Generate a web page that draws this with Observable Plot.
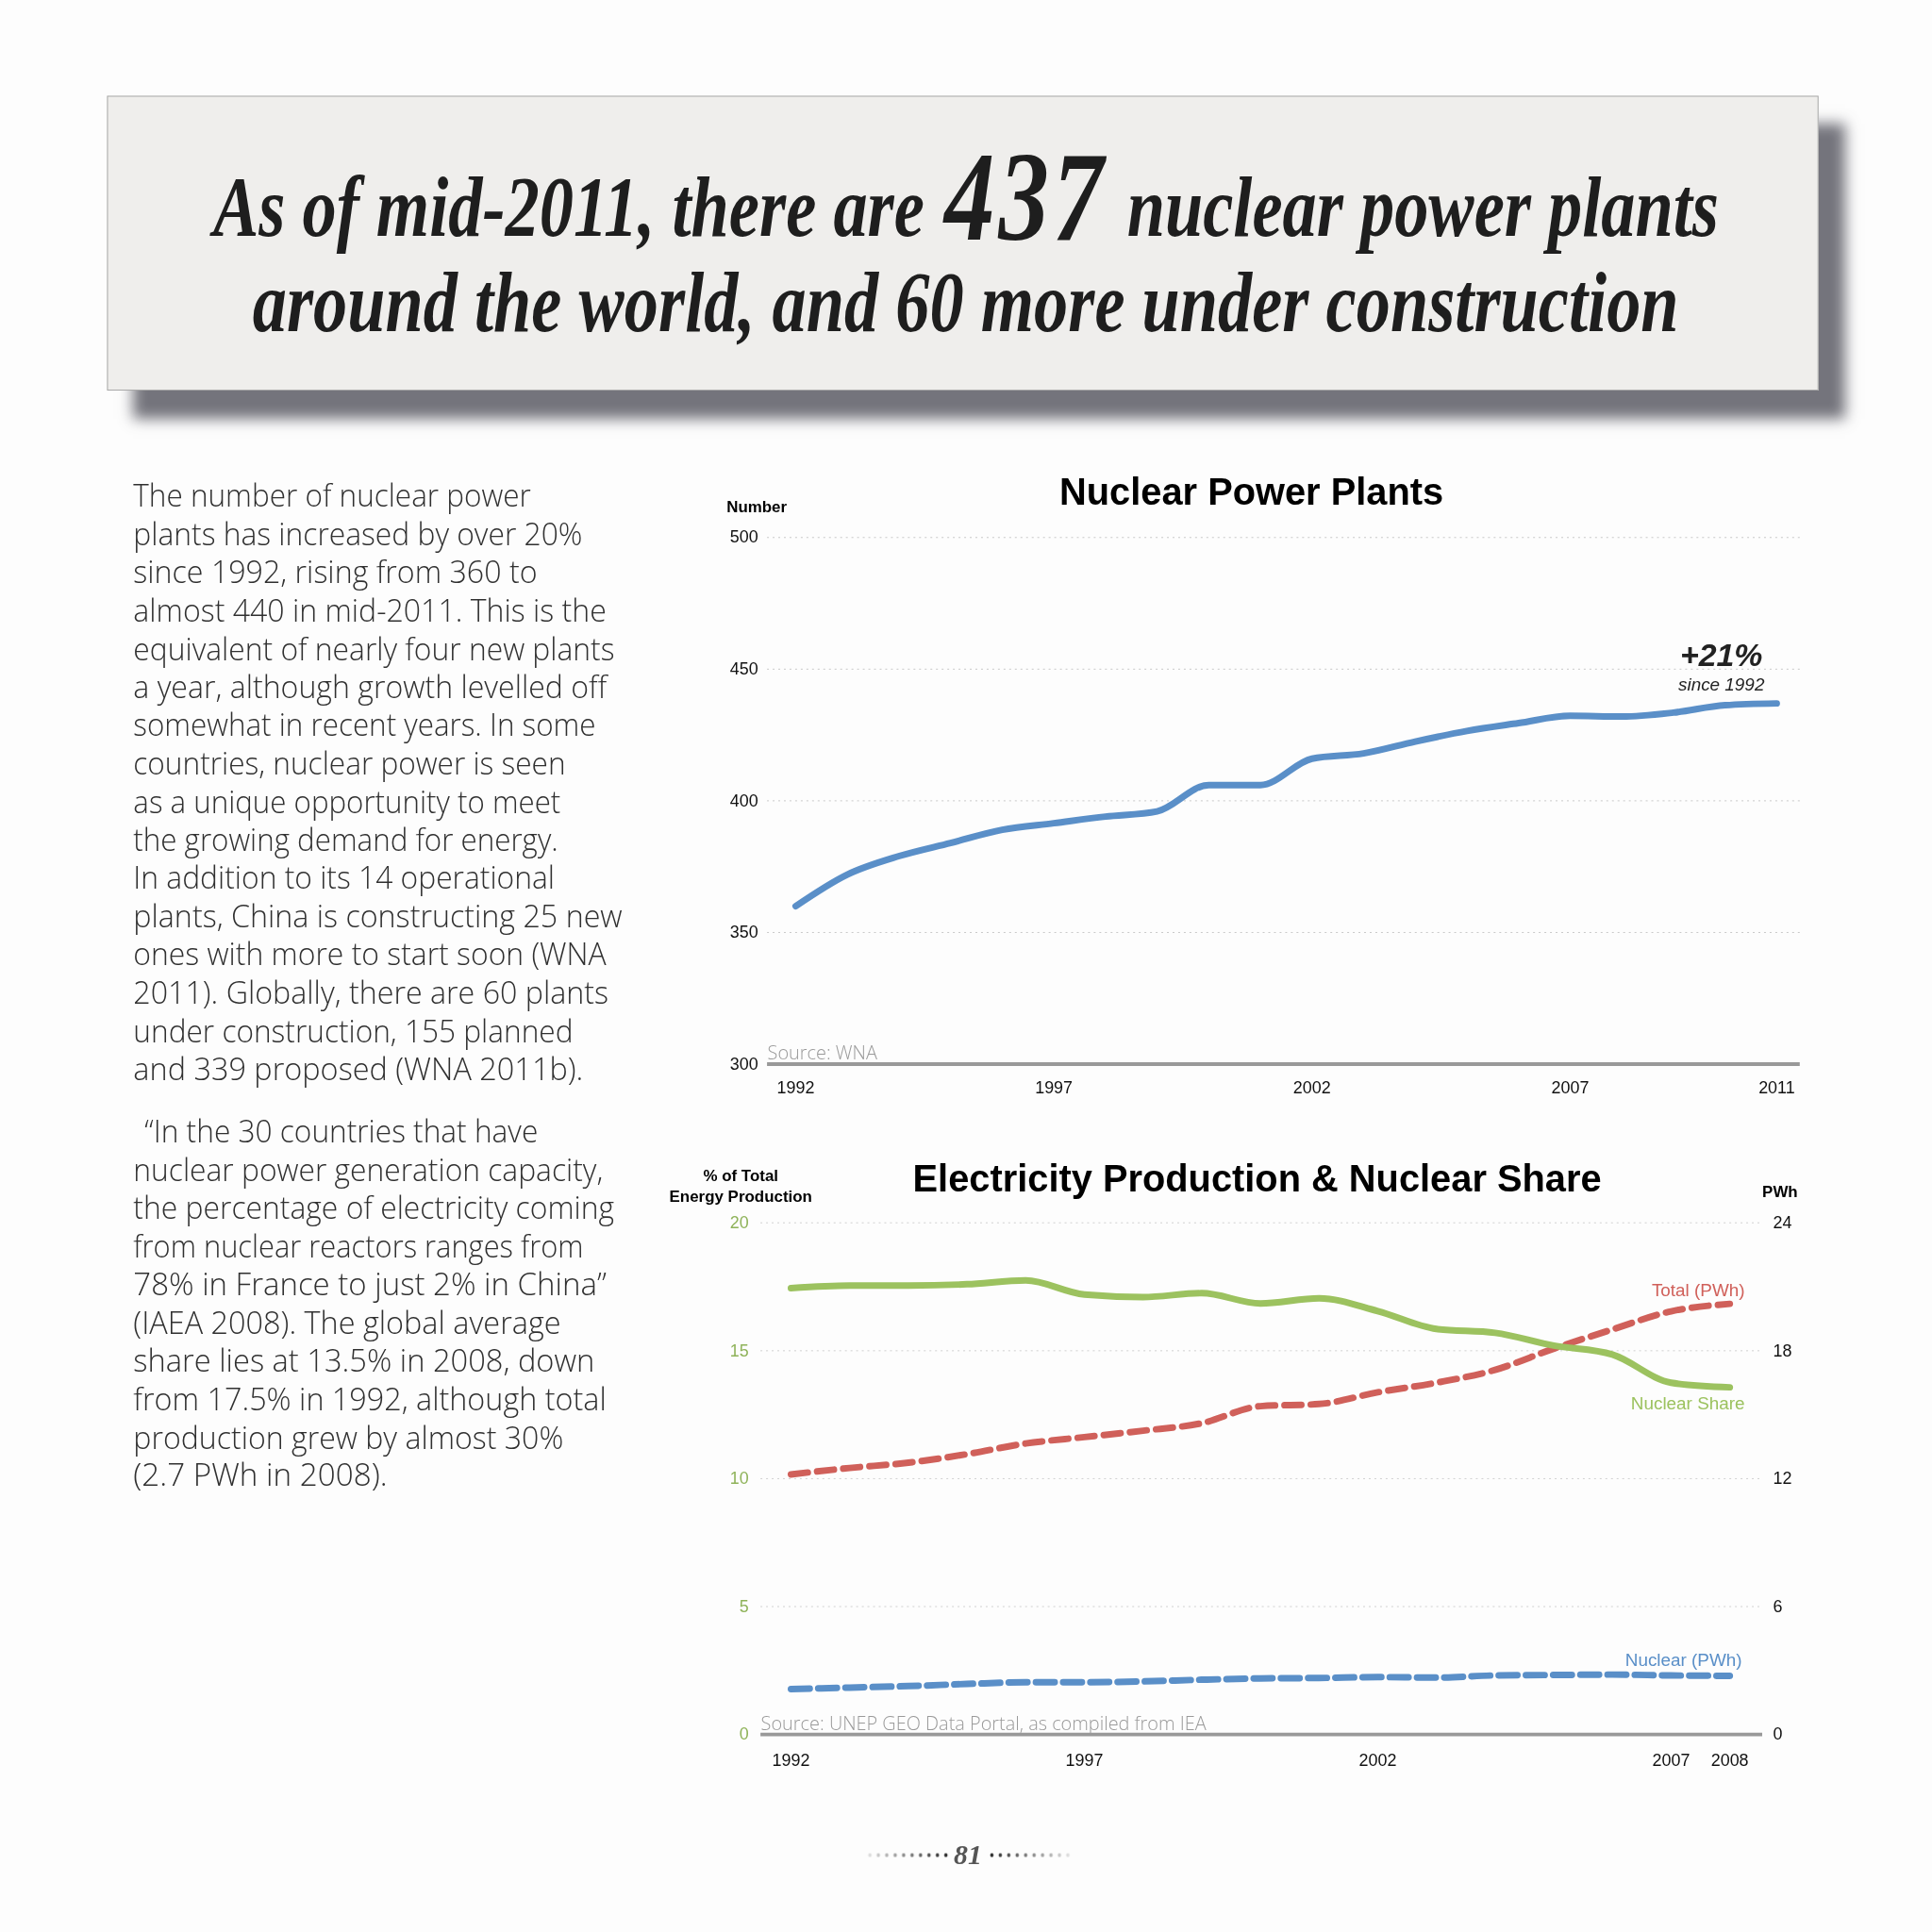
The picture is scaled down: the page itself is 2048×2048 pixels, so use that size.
<!DOCTYPE html>
<html>
<head>
<meta charset="utf-8">
<script src="https://cdn.jsdelivr.net/npm/d3@7"></script>
<script src="https://cdn.jsdelivr.net/npm/@observablehq/plot@0.6"></script>
<style>
  html, body { margin:0; padding:0; width:2048px; height:2048px; overflow:hidden; background:#fdfdfd; }
  #page { position:relative; width:2048px; height:2048px; transform:scale(0.9952); transform-origin:0 0; }
  .abs { position:absolute; white-space:nowrap; }
  .box { position:absolute; left:114px; top:102px; width:1821px; height:312px; background:#efeeec;
         border:1px solid #a8a8a8; box-shadow: 28px 30px 14px rgba(70,70,80,0.75); }
  .head { position:absolute; white-space:nowrap; font-family:"Liberation Serif", "DejaVu Serif", serif; font-style:italic; font-weight:bold;
          font-size:92px; line-height:100px; color:#1e1e1e; transform-origin:0 50%; }
  .head .big { font-size:136px; line-height:0; vertical-align:-4px; letter-spacing:5px; margin:0 4px; }
  .para { position:absolute; white-space:nowrap; font-family:"Open Sans", "Lato", sans-serif; font-weight:300; font-size:33px;
          line-height:40px; color:#303030; transform-origin:0 50%; }
  .ctitle { font-family:"Liberation Sans", Arial, sans-serif; font-weight:bold; color:#000; transform:translate(-50%,-50%); text-align:center; }
  .dots { position:absolute; height:8px;
          background-image: radial-gradient(circle, #222 1.6px, transparent 2.2px);
          background-size: 9px 8px; }
</style>
</head>
<body>
<div id="page">
  <div class="box"></div>
  <div class="head fit" data-w="1604" style="left:227px; top:170px;">As of mid-2011, there are <span class="big">437</span> nuclear power plants</div>
  <div class="head fit" data-w="1519" style="left:269px; top:272px;">around the world, and 60 more under construction</div>

  <div id="para1"></div>
  <div id="para2"></div>

  <div class="abs ctitle" style="left:1333px; top:524px; font-size:40px;">Nuclear Power Plants</div>
  <div class="abs ctitle" style="left:806px; top:541px; font-size:17px;">Number</div>
  <div id="chart1" style="position:absolute; left:740px; top:530px;"></div>

  <div class="abs ctitle" style="left:1339px; top:1256px; font-size:40px;">Electricity Production &amp; Nuclear Share</div>
  <div class="abs ctitle" style="left:789px; top:1264px; font-size:17px; line-height:22px;">% of Total<br>Energy Production</div>
  <div class="abs ctitle" style="left:1896px; top:1270px; font-size:17px;">PWh</div>
  <div id="chart2" style="position:absolute; left:740px; top:1260px;"></div>

  <div class="dots" style="left:922px; top:1972px; width:90px; -webkit-mask-image:linear-gradient(to right, rgba(0,0,0,0.1), #000); mask-image:linear-gradient(to right, rgba(0,0,0,0.1), #000);"></div>
  <div class="abs" style="left:1031px; top:1976px; transform:translate(-50%,-50%); font-family:'Liberation Serif',serif; font-style:italic; font-weight:bold; font-size:30px; color:#555;">81</div>
  <div class="dots" style="left:1052px; top:1972px; width:90px; -webkit-mask-image:linear-gradient(to left, rgba(0,0,0,0.1), #000); mask-image:linear-gradient(to left, rgba(0,0,0,0.1), #000);"></div>
</div>

<script>
// ---------- Text ----------
const para1Lines = [
  "The number of nuclear power",
  "plants has increased by over 20%",
  "since 1992, rising from 360 to",
  "almost 440 in mid-2011. This is the",
  "equivalent of nearly four new plants",
  "a year, although growth levelled off",
  "somewhat in recent years. In some",
  "countries, nuclear power is seen",
  "as a unique opportunity to meet",
  "the growing demand for energy.",
  "In addition to its 14 operational",
  "plants, China is constructing 25 new",
  "ones with more to start soon (WNA",
  "2011). Globally, there are 60 plants",
  "under construction, 155 planned",
  "and 339 proposed (WNA 2011b)."
];
const para1Widths = [424, 478, 430, 504, 513, 504, 493, 461, 455, 453, 449, 521, 504, 506, 468, 479];
const para2Lines = [
  "\u201CIn the 30 countries that have",
  "nuclear power generation capacity,",
  "the percentage of electricity coming",
  "from nuclear reactors ranges from",
  "78% in France to just 2% in China\u201D",
  "(IAEA 2008). The global average",
  "share lies at 13.5% in 2008, down",
  "from 17.5% in 1992, although total",
  "production grew by almost 30%",
  "(2.7 PWh in 2008)."
];
const para2Widths = [419, 500, 512, 480, 504, 455, 491, 504, 458, 271];

// ---------- Chart 1 data ----------
const plantYears = [1992,1993,1994,1995,1996,1997,1998,1999,2000,2001,2002,2003,2004,2005,2006,2007,2008,2009,2010,2011];
const plantCounts = [360,372,379,384,389,391.5,394,396,406,406,416,418,422.5,426.5,429.5,432.3,432,433.5,436.3,437];
const plantTicksX = [1992,1997,2002,2007,2011];
const plantTicksY = [300,350,400,450,500];

// ---------- Chart 2 data ----------
const elecYears = [1992,1993,1994,1995,1996,1997,1998,1999,2000,2001,2002,2003,2004,2005,2006,2007,2008];
const nuclearShare = [17.45,17.55,17.55,17.6,17.75,17.2,17.1,17.25,16.85,17.05,16.55,15.85,15.7,15.2,14.85,13.75,13.57];
const totalPWh = [12.2,12.5,12.75,13.15,13.65,13.95,14.25,14.6,15.4,15.5,16.05,16.5,17.1,18.1,19.0,19.85,20.2];
const nuclearPWh = [2.13,2.2,2.27,2.37,2.45,2.45,2.49,2.57,2.63,2.65,2.69,2.67,2.77,2.79,2.81,2.77,2.75];
const elecTicksX = [1992,1997,2002,2007,2008];
const shareTicks = [0,5,10,15,20];
const PWH_MAX = 24, SHARE_MAX = 20;

const BLUE = "#5a8fc8", GREEN = "#9cc25f", RED = "#d0605a";
const FONT = "'Liberation Sans', Arial, sans-serif";

// paragraphs
function addLines(id, lines, widths, left0, top0, firstIndent) {
  const host = document.getElementById(id);
  lines.forEach((t, i) => {
    const d = document.createElement("div");
    d.className = "para fit";
    d.textContent = t;
    d.dataset.w = widths[i];
    d.style.left = (left0 + (i === 0 ? firstIndent : 0)) + "px";
    d.style.top = (top0 + i * 40.7) + "px";
    host.appendChild(d);
  });
}
addLines("para1", para1Lines, para1Widths, 142, 508, 0);
addLines("para2", para2Lines, para2Widths, 142, 1185, 12);

// ---------- Chart 1 ----------
const plantData = plantYears.map((y, i) => ({year: y, value: plantCounts[i]}));
const chart1 = Plot.plot({
  width: 1200, height: 648,
  marginTop: 42, marginLeft: 77, marginRight: 23, marginBottom: 45,
  style: {background: "transparent", fontFamily: FONT, fontSize: "18px", color: "#111"},
  x: {domain: [1992, 2011], insetLeft: 30, insetRight: 25, label: null},
  y: {domain: [300, 500], label: null},
  marks: [
    Plot.gridY(plantTicksY.slice(1), {stroke: "#c8c8c8", strokeOpacity: 1, strokeDasharray: "2,4"}),
    Plot.axisY(plantTicksY, {tickSize: 0, tickPadding: 10, label: null, fontSize: 18}),
    Plot.axisX(plantTicksX, {tickSize: 0, tickPadding: 18, label: null, tickFormat: d => String(d), fontSize: 18}),
    Plot.ruleY([300], {stroke: "#999", strokeWidth: 4}),
    Plot.text(["Source: WNA"], {frameAnchor: "bottom-left", textAnchor: "start", lineAnchor: "bottom", dy: -5,
      fill: "#9a9a9a", fontSize: 20, fontFamily: "'Open Sans', Lato, sans-serif", fontWeight: 300}),
    Plot.lineY(plantData, {x: "year", y: "value", curve: "monotone-x", stroke: BLUE, strokeWidth: 7, strokeLinecap: "round"}),
    Plot.text(plantData, Plot.selectLast({x: "year", y: "value", text: () => "+21%", dx: -59, dy: -51,
      fontSize: 34, fontWeight: "bold", fontStyle: "italic", fill: "#222"})),
    Plot.text(plantData, Plot.selectLast({x: "year", y: "value", text: () => "since 1992", dx: -59, dy: -20,
      fontSize: 19, fontStyle: "italic", fill: "#222"}))
  ]
});
document.getElementById("chart1").appendChild(chart1);

// ---------- Chart 2 ----------
const elecData = elecYears.map((y, i) => ({
  year: y, share: nuclearShare[i], total: totalPWh[i], nuclear: nuclearPWh[i]
}));
const pwh = v => v * SHARE_MAX / PWH_MAX; // secondary axis transform
const chart2 = Plot.plot({
  width: 1200, height: 632,
  marginTop: 42, marginLeft: 70, marginRight: 63, marginBottom: 45,
  style: {background: "transparent", fontFamily: FONT, fontSize: "18px", color: "#111"},
  x: {domain: [1992, 2008], insetLeft: 32, insetRight: 35, label: null},
  y: {domain: [0, SHARE_MAX], label: null},
  marks: [
    Plot.gridY(shareTicks.slice(1), {stroke: "#d0d0d0", strokeOpacity: 1, strokeDasharray: "2,4"}),
    Plot.axisY(shareTicks, {anchor: "left", tickSize: 0, tickPadding: 13, label: null, fill: "#8fb35a", color: "#8fb35a", fontSize: 18}),
    Plot.axisY(shareTicks, {anchor: "right", tickSize: 0, tickPadding: 11, label: null, fontSize: 18,
      tickFormat: d => String(d * PWH_MAX / SHARE_MAX)}),
    Plot.axisX(elecTicksX, {tickSize: 0, tickPadding: 21, label: null, tickFormat: d => String(d), fontSize: 18}),
    Plot.ruleY([0], {stroke: "#999", strokeWidth: 4}),
    Plot.text(["Source: UNEP GEO Data Portal, as compiled from IEA"], {frameAnchor: "bottom-left", textAnchor: "start",
      lineAnchor: "bottom", dy: -5, fill: "#9a9a9a", fontSize: 20, fontFamily: "'Open Sans', Lato, sans-serif", fontWeight: 300}),
    Plot.lineY(elecData, {x: "year", y: d => pwh(d.nuclear), curve: "monotone-x", stroke: BLUE, strokeWidth: 7, strokeDasharray: "20,9"}),
    Plot.lineY(elecData, {x: "year", y: d => pwh(d.total), curve: "monotone-x", stroke: RED, strokeWidth: 7, strokeDasharray: "18,10"}),
    Plot.lineY(elecData, {x: "year", y: "share", curve: "monotone-x", stroke: GREEN, strokeWidth: 7, strokeLinecap: "round"}),
    Plot.text(elecData, Plot.selectLast({x: "year", y: d => pwh(d.total), text: () => "Total (PWh)", textAnchor: "end",
      dx: 16, dy: -14, fill: RED, fontSize: 19})),
    Plot.text(elecData, Plot.selectLast({x: "year", y: "share", text: () => "Nuclear Share", textAnchor: "end",
      dx: 16, dy: 17, fill: GREEN, fontSize: 19})),
    Plot.text(elecData, Plot.selectLast({x: "year", y: d => pwh(d.nuclear), text: () => "Nuclear (PWh)", textAnchor: "end",
      dx: 13, dy: -17, fill: BLUE, fontSize: 19}))
  ]
});
document.getElementById("chart2").appendChild(chart2);

// ---------- fit text lines to the reference widths ----------
function fitAll() {
  document.querySelectorAll(".fit").forEach(el => {
    el.style.transform = "none";
    const w = el.offsetWidth;
    const target = +el.dataset.w;
    if (w > 0) el.style.transform = `scaleX(${target / w})`;
  });
}
fitAll();
if (document.fonts && document.fonts.ready) document.fonts.ready.then(fitAll);
</script>
</body>
</html>
